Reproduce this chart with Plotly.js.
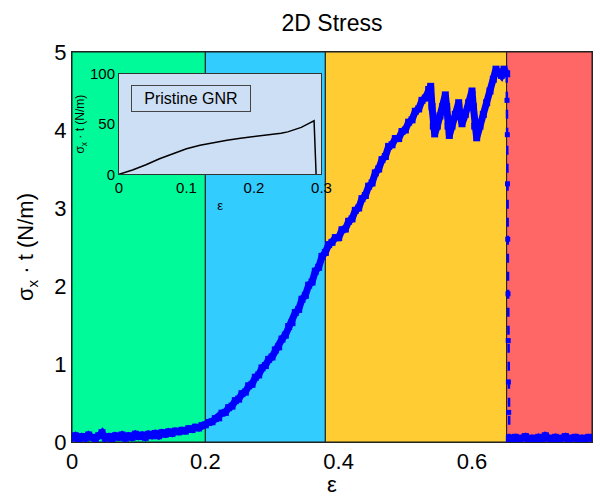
<!DOCTYPE html>
<html>
<head>
<meta charset="utf-8">
<script src="https://cdn.plot.ly/plotly-3.0.1.min.js"></script>
<style>html,body{margin:0;padding:0;background:#fff;}#chart{width:593px;height:497px;}</style>
</head>
<body>
<div id="chart"></div>
<script>
// ---- main curve: strain (ε) vs 2D stress σx·t (N/m)
var strain = [
0.000,0.005,0.010,0.015,0.020,0.025,0.030,0.035,0.040,0.045,0.050,0.055,0.060,0.065,0.070,0.075,0.080,0.085,0.090,0.095,
0.100,0.105,0.110,0.115,0.120,0.125,0.130,0.135,0.140,0.145,0.150,0.155,0.160,0.165,0.170,0.175,0.180,0.185,0.190,0.195,
0.200,0.205,0.210,0.215,0.220,0.225,0.230,0.235,0.240,0.245,0.250,0.255,0.260,0.265,0.270,0.275,0.280,0.285,0.290,0.295,
0.300,0.305,0.310,0.315,0.320,0.325,0.330,0.335,0.340,0.345,0.350,0.355,0.360,0.365,0.370,0.375,0.380,0.385,0.390,0.395,
0.400,0.405,0.410,0.415,0.420,0.425,0.430,0.435,0.440,0.445,0.450,0.455,0.460,0.465,0.470,0.475,0.480,0.485,0.490,0.495,
0.500,0.505,0.510,0.515,0.520,0.525,0.530,0.535,0.538,0.540,0.542,0.544,0.548,0.552,0.556,0.560,0.562,0.564,0.566,0.570,
0.575,0.580,0.582,0.585,0.590,0.595,0.600,0.602,0.604,0.607,0.612,0.617,0.622,0.627,0.632,0.636,0.640,0.644,0.648,0.652,
0.6525,0.653,0.6533,0.6536,0.654,0.6543,0.6546,0.655,0.6555,0.656,
0.660,0.665,0.670,0.675,0.680,0.685,0.690,0.695,0.700,0.705,0.710,0.715,0.720,0.725,0.730,0.735,0.740,0.745,0.750,0.755,
0.760,0.765,0.770,0.775,0.780
];
var stress = [
0.05,0.08,0.04,0.07,0.05,0.09,0.06,0.04,0.08,0.12,0.05,0.07,0.04,0.08,0.06,0.09,0.05,0.08,0.06,0.10,
0.07,0.09,0.06,0.10,0.08,0.11,0.08,0.12,0.10,0.13,0.11,0.14,0.13,0.15,0.14,0.17,0.16,0.19,0.18,0.21,
0.22,0.25,0.26,0.30,0.31,0.37,0.38,0.44,0.46,0.53,0.55,0.62,0.64,0.72,0.74,0.83,0.86,0.95,0.98,1.06,
1.09,1.18,1.22,1.32,1.37,1.48,1.53,1.66,1.70,1.83,1.88,2.01,2.05,2.19,2.24,2.38,2.43,2.53,2.56,2.62,
2.62,2.72,2.73,2.83,2.86,2.97,3.00,3.12,3.16,3.28,3.32,3.45,3.50,3.62,3.66,3.79,3.81,3.89,3.89,3.98,
4.00,4.10,4.13,4.24,4.27,4.38,4.41,4.52,4.56,4.30,4.05,3.95,4.05,4.18,4.30,4.45,4.30,4.05,3.93,4.05,
4.20,4.35,4.20,4.08,4.20,4.35,4.50,4.30,4.05,3.90,4.05,4.20,4.35,4.50,4.65,4.78,4.74,4.70,4.78,4.72,
4.38,3.94,3.31,2.60,1.90,1.30,0.77,0.38,0.07,0.04,
0.04,0.06,0.03,0.05,0.07,0.04,0.05,0.03,0.06,0.04,0.08,0.05,0.04,0.06,0.03,0.05,0.07,0.04,0.05,0.06,
0.03,0.05,0.04,0.06,0.05
];
// index range of the sudden fracture drop (drawn dashed)
var dropFrom = 139, dropTo = 149;

// ---- deformation regions
var regionStart = [0, 0.2, 0.38, 0.652];
var regionEnd   = [0.2, 0.38, 0.652, 0.78];
var regionColor = ['#00fa9a', '#33ccff', '#ffcc33', '#ff6666'];

// ---- inset: pristine GNR
var insetStrain = [0,0.02,0.04,0.06,0.08,0.10,0.12,0.14,0.16,0.18,0.20,0.22,0.24,0.25,0.26,0.27,0.28,0.285,0.289,0.292];
var insetStress = [0,4.3,9.5,15.5,20.5,25.5,29,31.8,34,36,37.5,39,41,42.3,44.3,46.8,50.2,52.3,53.4,0];

var xTicks = [0, 0.2, 0.4, 0.6];
var yTicks = [0, 1, 2, 3, 4, 5];
var insetXTicks = [0, 0.1, 0.2, 0.3];
var insetYTicks = [0, 50, 100];

var insetBg = '#cddff5';
var fontFam = 'Liberation Sans, Arial, sans-serif';

var shapes = [];
for (var i = 0; i < regionStart.length; i++) {
  shapes.push({type:'rect', xref:'x', yref:'y', layer:'below',
    x0: regionStart[i], x1: regionEnd[i], y0: 0, y1: 5,
    fillcolor: regionColor[i], line:{color:'#1a1a1a', width:1}});
}

var blue = '#0000ff';
var traces = [
  {x: strain.slice(0, dropFrom + 1), y: stress.slice(0, dropFrom + 1), xaxis:'x', yaxis:'y',
   type:'scatter', mode:'lines+markers',
   line:{color:blue, width:7}, marker:{symbol:'square', size:7, color:blue},
   hoverinfo:'skip', showlegend:false},
  {x: strain.slice(dropFrom, dropTo + 1), y: stress.slice(dropFrom, dropTo + 1), xaxis:'x', yaxis:'y',
   type:'scatter', mode:'lines+markers',
   line:{color:blue, width:2.5, dash:'dash'}, marker:{symbol:'square', size:5, color:blue},
   hoverinfo:'skip', showlegend:false},
  {x: strain.slice(dropTo), y: stress.slice(dropTo), xaxis:'x', yaxis:'y',
   type:'scatter', mode:'lines+markers',
   line:{color:blue, width:7}, marker:{symbol:'square', size:7, color:blue},
   hoverinfo:'skip', showlegend:false},
  {x: insetStrain, y: insetStress, xaxis:'x2', yaxis:'y2', type:'scatter', mode:'lines',
   line:{color:'#000000', width:1.5}, hoverinfo:'skip', showlegend:false}
];

var layout = {
  width: 593, height: 497,
  margin: {l:72, r:1, t:52, b:55},
  paper_bgcolor: '#ffffff',
  plot_bgcolor: insetBg,
  font: {family: fontFam, color:'#000'},
  title: {text:'2D Stress', font:{size:23, family:fontFam, color:'#000'},
          xref:'paper', x:0.5, xanchor:'center', yref:'container', y:0.954, yanchor:'middle'},
  showlegend: false,
  xaxis: {range:[0, 0.78], tickvals: xTicks, ticktext: xTicks.map(String), ticks:'',
          showgrid:false, zeroline:false, showline:true, mirror:true, linecolor:'#222', linewidth:1,
          tickfont:{size:22}, title:{text:'ε', font:{size:22}, standoff:4}},
  yaxis: {range:[0, 5], tickvals: yTicks, ticks:'', showgrid:false, zeroline:false,
          showline:true, mirror:true, linecolor:'#222', linewidth:1,
          tickfont:{size:22}, title:{text:'σ<sub>x</sub> · t (N/m)', font:{size:22}, standoff:14}},
  xaxis2: {domain:[0.0904, 0.4798], anchor:'y2', range:[0, 0.3], tickvals: insetXTicks,
           ticktext: insetXTicks.map(String), ticks:'', showgrid:false, zeroline:false,
           showline:true, mirror:true, linecolor:'#333', linewidth:1,
           tickfont:{size:15}, title:{text:'ε', font:{size:13}, standoff:5}},
  yaxis2: {domain:[0.6864, 0.9436], anchor:'x2', range:[0, 100], tickvals: insetYTicks,
           ticks:'', showgrid:false, zeroline:false, showline:true, mirror:true,
           linecolor:'#333', linewidth:1, tickfont:{size:15},
           title:{text:'σ<sub>x</sub> · t (N/m)', font:{size:12}, standoff:2}},
  shapes: shapes,
  annotations: [{
    text:'Pristine GNR', xref:'paper', yref:'paper', x:0.2288, y:0.8795,
    xanchor:'center', yanchor:'middle', showarrow:false,
    font:{size:16, color:'#000'}, bgcolor: insetBg, bordercolor:'#444', borderwidth:1,
    width:114, height:21, borderpad:2
  }]
};

Plotly.newPlot('chart', traces, layout, {staticPlot:true, displayModeBar:false});
</script>
</body>
</html>
